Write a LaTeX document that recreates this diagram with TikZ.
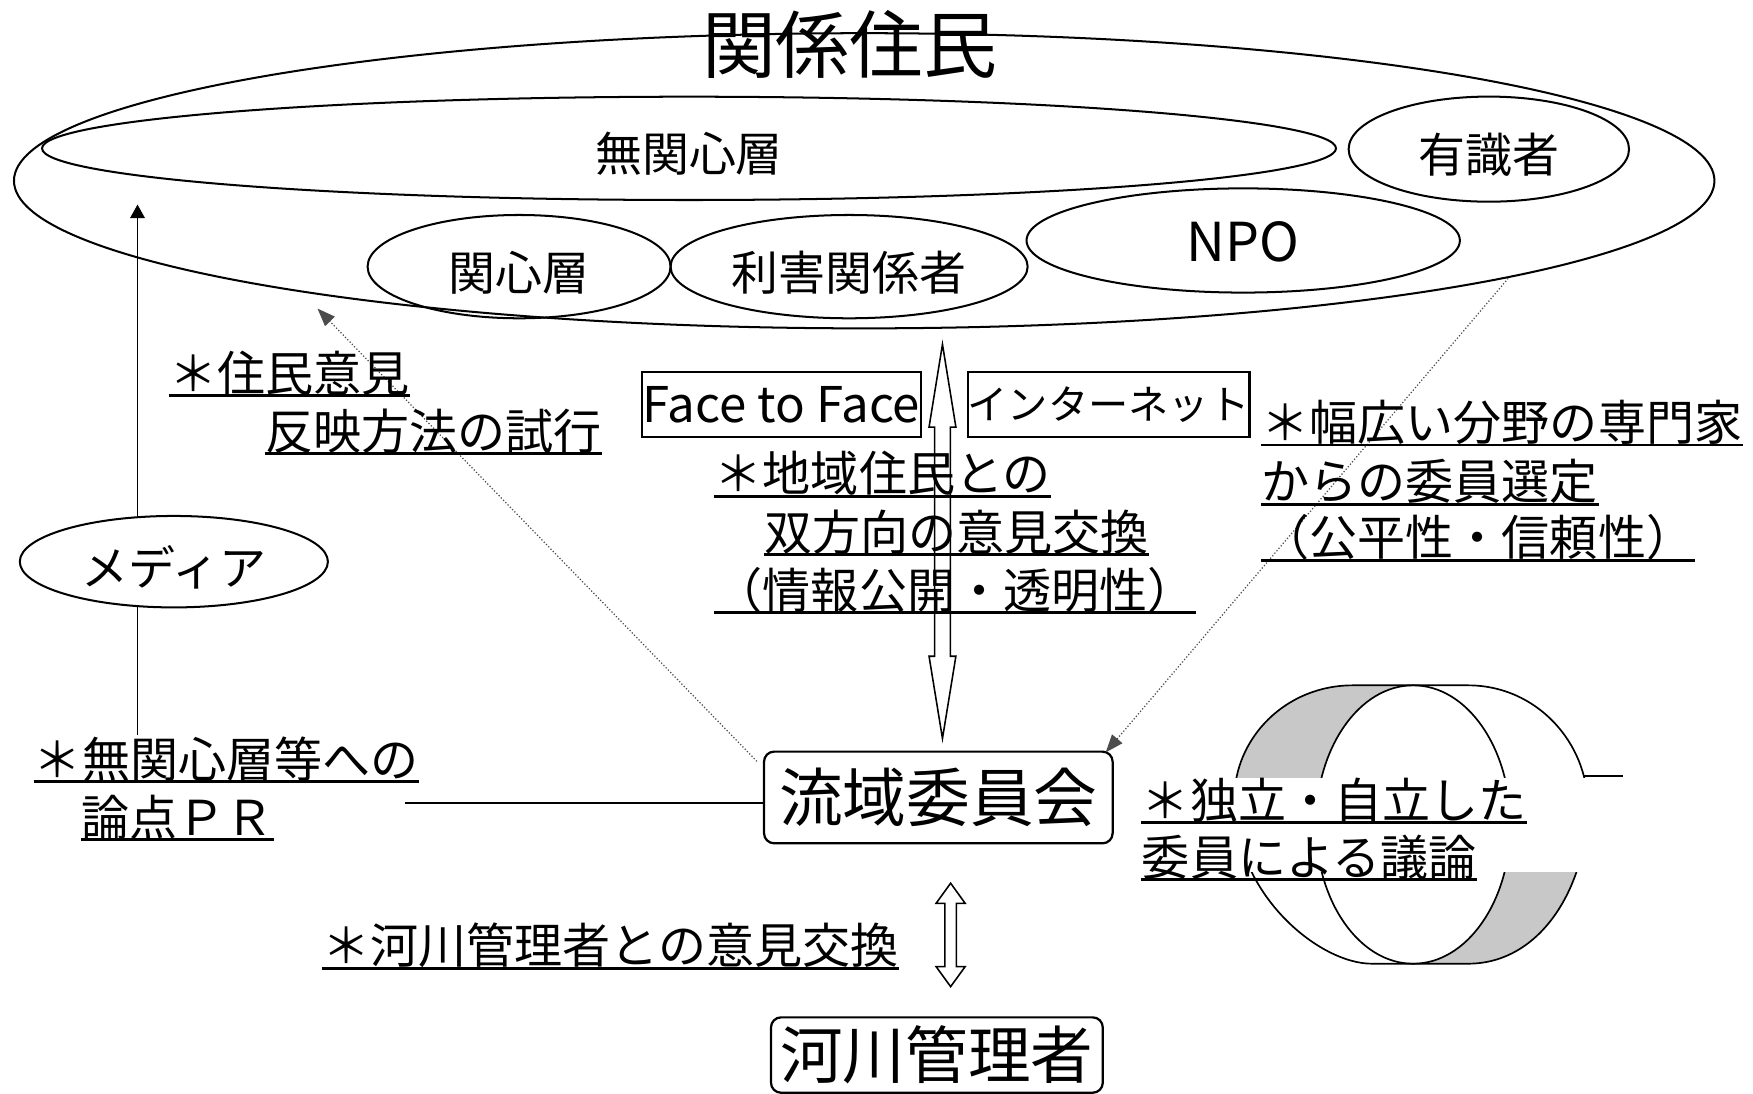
\documentclass[tikz,border=0pt]{standalone}
\usepackage{fontspec}
\setmainfont{Noto Sans CJK JP}
\usetikzlibrary{shapes.geometric,arrows.meta}
\definecolor{ringgray}{RGB}{200,200,200}
\newcommand{\ulnode}[3]{\node[ultxt] (#1) at #2 {#3};
  \draw[ul] ([yshift=-2pt]#1.base west) -- ([yshift=-2pt]#1.base east);}
\begin{document}
\begin{tikzpicture}[x=0.5pt,y=-0.5pt,
  ell/.style={draw,ellipse,line width=0.9pt,inner sep=0pt,text height=21pt,text depth=0pt,font=\fontsize{21pt}{24pt}\selectfont},
  ultxt/.style={inner sep=0pt,anchor=base west,font=\fontsize{21.5pt}{24pt}\selectfont},
  ul/.style={line width=1.3pt},
  rbox/.style={draw,rounded corners=4.5pt,line width=1pt,inner sep=0pt,fill=white},
  sbox/.style={draw,line width=1pt,inner sep=0pt},
  dotarrow/.style={line width=0.55pt,black!70,dash pattern=on 0.55pt off 0.9pt,-{Triangle[length=8pt,width=6pt]}},
  blockarrow/.style={draw,line width=0.7pt},
  ringline/.style={line width=0.75pt},
]
\useasboundingbox (0,0) rectangle (1568,978.5);

% --- top group ---
\node[ell,minimum width=760.5pt,minimum height=132pt] (kankei) at (773,161.7) {};
\node[inner sep=0pt,font=\fontsize{33pt}{36pt}\selectfont] (title) at (760,40) {関係住民};
\node[ell,minimum width=578.7pt,minimum height=46.2pt] (mukan) at (616.3,132.7) {無関心層};
\node[ell,minimum width=125.4pt,minimum height=47pt] (yushiki) at (1331.7,133.4) {有識者};
\node[ell,minimum width=135.5pt,minimum height=46.2pt] (kanshin) at (464.3,238.5) {関心層};
\node[ell,minimum width=159.7pt,minimum height=46.2pt] (rigai) at (759.5,238.5) {利害関係者};
\node[ell,minimum width=193.8pt,minimum height=46.6pt,text height=19pt,font=\fontsize{24pt}{26pt}\selectfont] (npo) at (1112,215.1) {NPO};

% --- committee boxes ---
\node[rbox,minimum width=155.9pt,minimum height=41pt,font=\fontsize{28.5pt}{31pt}\selectfont] (ryu) at (839.3,713.3) {流域委員会};
\node[rbox,minimum width=148.4pt,minimum height=33.7pt,font=\fontsize{28pt}{31pt}\selectfont] (kasen) at (838,943.7) {河川管理者};

% --- left vertical arrow and media ---
\coordinate (vaBot) at (123,657);
\coordinate (vaTop) at (123,183);
\draw[line width=0.6pt,-{Triangle[length=6pt,width=6.5pt]}] (vaBot) -- (vaTop);
\node[ell,fill=white,minimum width=137.8pt,minimum height=40.9pt] (media) at (155.5,502.4) {メディア};

% --- dotted arrows ---
\coordinate (dlA) at (677,681);
\coordinate (dlB) at (284,276);
\draw[dotarrow] (dlA) -- (dlB);
\coordinate (drA) at (1349,249);
\coordinate (drB) at (989,673);
\draw[dotarrow] (drA) -- (drB);

% --- horizontal connector ---
\coordinate (hl) at (362,718);
\draw[line width=0.7pt] (hl) -- (hl -| ryu.west);

% --- Face to Face / Internet ---
\node[sbox,minimum width=124.85pt,minimum height=29.4pt,font=\fontsize{22pt}{24pt}\selectfont] (f2f) at (698.75,361.8) {Face to Face};
\node[sbox,minimum width=125.25pt,minimum height=29.4pt,font=\fontsize{18pt}{21pt}\selectfont] (net) at (991.55,361.8) {インターネット};

% --- block arrows ---
\draw[blockarrow] (843,308) -- (855,382) -- (850,382) -- (850,587) -- (855,587) -- (843,660.5)
  -- (831,587) -- (836,587) -- (836,382) -- (831,382) -- cycle;
\draw[blockarrow] (850.3,790) -- (863.3,808) -- (855.5,808) -- (855.5,864.6) -- (863.3,864.6) -- (850.3,882.5)
  -- (837.3,864.6) -- (845.1,864.6) -- (845.1,808) -- (837.3,808) -- cycle;

% --- ring graphic ---
\fill[ringgray] (1104,737) -- (1104,715) .. controls (1104,660) and (1150,613) .. (1210,613)
  -- (1264,613) .. controls (1216,613) and (1177,668.7) .. (1177,737.5) -- cycle;
\fill[ringgray] (1351,737.5) .. controls (1351,806.3) and (1312,862) .. (1264,862)
  -- (1313,862) .. controls (1380,862) and (1420,790) .. (1420,720) -- cycle;
\draw[ringline] (1210,613) -- (1313,613) .. controls (1375,613) and (1420,665) .. (1420,720)
  .. controls (1420,790) and (1380,862) .. (1313,862) -- (1227,862)
  .. controls (1180,862) and (1104,800) .. (1104,715)
  .. controls (1104,660) and (1150,613) .. (1210,613) -- cycle;
\draw[ringline] (1264,737.5) ellipse [x radius=43.5pt, y radius=62.25pt];
\draw[ringline] (1417,694) -- (1452,694);
\fill[white] (1015,695.5) rectangle (1462,780);

% --- underlined texts ---
\ulnode{u1}{(151,350)}{＊住民意見}
\ulnode{u2}{(237,402)}{反映方法の試行}
\ulnode{u3}{(639,440)}{＊地域住民との}
\ulnode{u4}{(683,492)}{双方向の意見交換}
\ulnode{u5}{(639,544)}{（情報公開・透明性）}
\ulnode{u6}{(1128,394)}{＊幅広い分野の専門家}
\ulnode{u7}{(1128,447)}{からの委員選定}
\ulnode{u8}{(1128,497)}{（公平性・信頼性）}
\ulnode{u9}{(30,695)}{＊無関心層等への}
\ulnode{u10}{(72.5,747)}{論点ＰＲ}
\ulnode{u11}{(1021,732)}{＊独立・自立した}
\ulnode{u12}{(1021,783)}{委員による議論}
\ulnode{u13}{(288,862)}{＊河川管理者との意見交換}
\end{tikzpicture}
\end{document}
